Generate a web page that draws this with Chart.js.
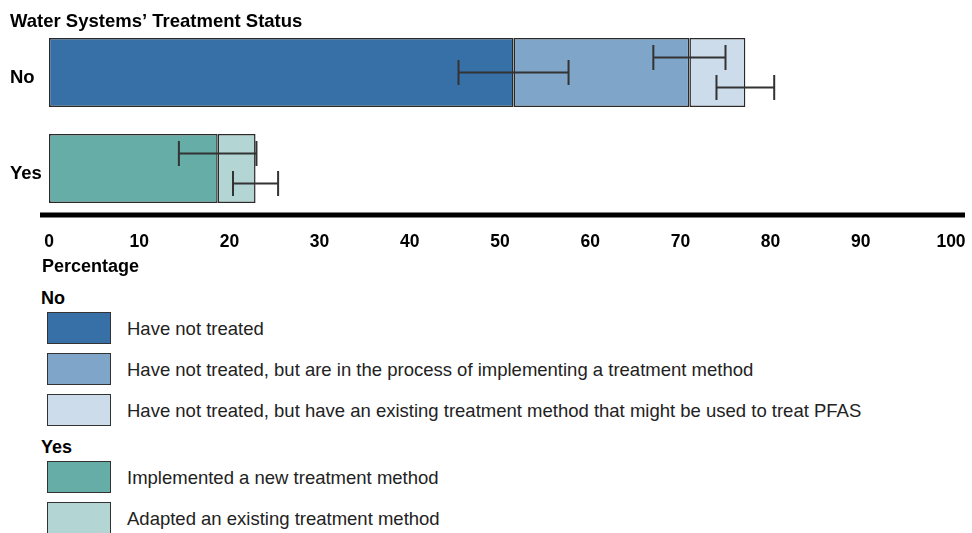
<!DOCTYPE html>
<html>
<head>
<meta charset="utf-8">
<script src="https://cdn.jsdelivr.net/npm/chart.js@4.4.0/dist/chart.umd.min.js"></script>
<style>
  body { margin: 0; background: #fff; font-family: 'Liberation Sans', Arial, sans-serif; }
  #wrap { position: relative; width: 972px; height: 533px; overflow: hidden; }
  #myChart { position: absolute; left: 0; top: 0; }
  .lg-head { position: absolute; left: 41px; font-weight: bold; font-size: 18px; line-height: 20px; color: #000; }
  .lg-box { position: absolute; left: 47px; width: 62px; height: 30px; border: 1.5px solid #333; }
  .lg-text { position: absolute; left: 127px; font-size: 18.5px; color: #222; line-height: 33px; white-space: nowrap; }
</style>
</head>
<body>
<div id="wrap">
  <canvas id="myChart" width="972" height="280"></canvas>
  <div id="legend"></div>
</div>
<script>
const categories = ['No', 'Yes'];
const xTicks = [0, 10, 20, 30, 40, 50, 60, 70, 80, 90, 100];

const seriesLabels = [
  'Have not treated',
  'Have not treated, but are in the process of implementing a treatment method',
  'Have not treated, but have an existing treatment method that might be used to treat PFAS',
  'Implemented a new treatment method',
  'Adapted an existing treatment method'
];
const notTreated = [51.5, null];
const inProcess = [19.5, null];
const existingMightUse = [6.2, null];
const newMethod = [null, 18.7];
const adaptedMethod = [null, 4.2];

// margins of error (+/-)
const notTreatedErr = [6.1, null];
const inProcessErr = [4.0, null];
const existingErr = [3.2, null];
const newMethodErr = [null, 4.3];
const adaptedErr = [null, 2.5];

const colors = ['#3670a6', '#7fa6c8', '#cddcea', '#66ada8', '#b3d6d4'];
const errOffsets = [0, -15, 15, -15, 15];

const allData = [notTreated, inProcess, existingMightUse, newMethod, adaptedMethod];
const allErr = [notTreatedErr, inProcessErr, existingErr, newMethodErr, adaptedErr];

const errorBars = {
  id: 'errorBars',
  afterDatasetsDraw(chart) {
    const c = chart.ctx;
    const xs = chart.scales.x, ys = chart.scales.y;
    c.save();
    c.strokeStyle = '#333';
    c.lineWidth = 2;
    categories.forEach((cat, i) => {
      let cum = 0;
      allData.forEach((d, k) => {
        if (d[i] == null) return;
        cum += d[i];
        const e = allErr[k][i];
        const y = ys.getPixelForValue(i) + errOffsets[k];
        const x1 = xs.getPixelForValue(cum - e), x2 = xs.getPixelForValue(cum + e);
        c.beginPath();
        c.moveTo(x1, y); c.lineTo(x2, y);
        c.moveTo(x1, y - 12.5); c.lineTo(x1, y + 12.5);
        c.moveTo(x2, y - 12.5); c.lineTo(x2, y + 12.5);
        c.stroke();
      });
    });
    c.restore();
  },
  afterDraw(chart) {
    const c = chart.ctx;
    c.save();
    // heavy baseline
    c.fillStyle = '#000';
    c.fillRect(40, chart.chartArea.bottom - 4, 925, 5);
    // chart title and x axis title
    c.textBaseline = 'alphabetic';
    c.font = "bold 18.5px 'Liberation Sans', Arial, sans-serif";
    c.fillText('Water Systems\u2019 Treatment Status', 10, 26.5);
    c.font = "bold 18px 'Liberation Sans', Arial, sans-serif";
    c.fillText('Percentage', 42, 271.5);
    c.restore();
  }
};

const ctx = document.getElementById('myChart');
new Chart(ctx, {
  type: 'bar',
  data: {
    labels: categories,
    datasets: allData.map((d, k) => ({
      label: seriesLabels[k],
      data: d,
      backgroundColor: colors[k],
      borderColor: '#2a2a2a',
      borderWidth: 1.5,
      borderSkipped: false,
      barPercentage: 0.72,
      categoryPercentage: 1
    }))
  },
  options: {
    indexAxis: 'y',
    responsive: false,
    animation: false,
    layout: { padding: { left: 10, right: 21, top: 24.5, bottom: 0 } },
    scales: {
      x: {
        stacked: true,
        min: 0,
        max: 100,
        afterBuildTicks: (s) => { s.ticks = xTicks.map(v => ({ value: v })); },
        afterFit: (s) => { s.height = 63.5; s.paddingLeft = 0; s.paddingRight = 0; },
        grid: { display: false, drawTicks: false },
        border: { display: false },
        ticks: {
          padding: 15,
          color: '#000',
          maxRotation: 0,
          font: { family: "'Liberation Sans', Arial", size: 17.5, weight: 'bold' }
        }
      },
      y: {
        stacked: true,
        afterFit: (s) => { s.width = 39; },
        grid: { display: false, drawTicks: false },
        border: { display: false },
        ticks: {
          crossAlign: 'far',
          padding: 0,
          labelOffset: 5,
          color: '#000',
          font: { family: "'Liberation Sans', Arial", size: 18.5, weight: 'bold' }
        }
      }
    },
    plugins: {
      legend: { display: false },
      tooltip: { enabled: false }
    }
  },
  plugins: [errorBars]
});

// legend below the chart
const legendGroups = [
  { head: 'No', top: 288, items: [0, 1, 2] },
  { head: 'Yes', top: 437, items: [3, 4] }
];
const lg = document.getElementById('legend');
legendGroups.forEach((g, gi) => {
  const h = document.createElement('div');
  h.className = 'lg-head';
  h.style.top = g.top + 'px';
  h.textContent = g.head;
  lg.appendChild(h);
  g.items.forEach((k, j) => {
    const y = g.top + 24 + j * 41;
    const b = document.createElement('div');
    b.className = 'lg-box';
    b.style.top = y + 'px';
    b.style.background = colors[k];
    lg.appendChild(b);
    const t = document.createElement('div');
    t.className = 'lg-text';
    t.style.top = y + 'px';
    t.textContent = seriesLabels[k];
    lg.appendChild(t);
  });
});
</script>
</body>
</html>
